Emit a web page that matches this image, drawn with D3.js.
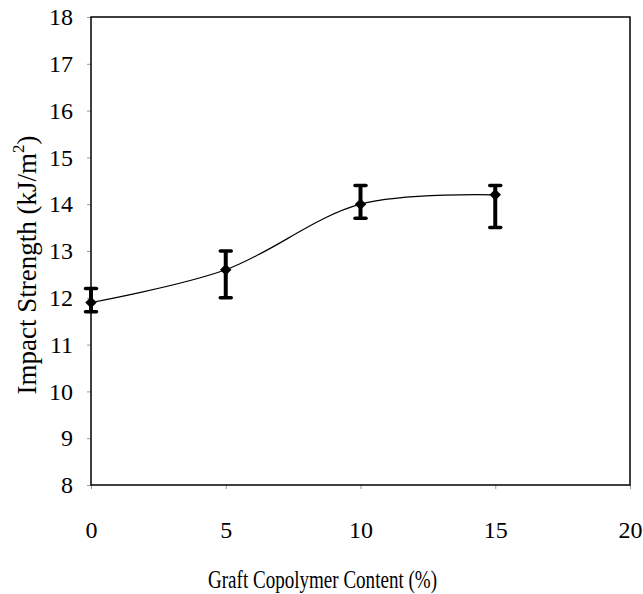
<!DOCTYPE html>
<html>
<head>
<meta charset="utf-8">
<script src="https://cdn.jsdelivr.net/npm/d3@7"></script>
<style>
  body { margin: 0; background: #fff; }
  svg { display: block; font-family: "Liberation Serif", "Times New Roman", serif; }
</style>
</head>
<body>
<svg id="chart" width="643" height="594"></svg>
<script>
// data
const content = [0, 5, 10, 15];
const strength = [11.9, 12.6, 14.0, 14.2];
const errLow = [11.7, 12.0, 13.7, 13.5];
const errHigh = [12.2, 13.0, 14.4, 14.4];
const xTicks = [0, 5, 10, 15, 20];
const yTicks = [8, 9, 10, 11, 12, 13, 14, 15, 16, 17, 18];

const svg = d3.select('#chart');
const plotLeft = 91, plotRight = 630, plotTop = 17, plotBottom = 485;

const x = d3.scaleLinear().domain([0, 20]).range([plotLeft, plotRight]);
const y = d3.scaleLinear().domain([8, 18]).range([plotBottom, plotTop]);

const points = content.map((c, i) => ({
  x: c, y: strength[i], lo: errLow[i], hi: errHigh[i]
}));

// axes
const xAxis = svg.append('g')
  .attr('transform', `translate(0,${plotBottom})`)
  .call(d3.axisBottom(x).tickValues(xTicks).tickSize(4).tickPadding(32));
const yAxis = svg.append('g')
  .attr('transform', `translate(${plotLeft},0)`)
  .call(d3.axisLeft(y).tickValues(yTicks).tickSize(4).tickPadding(14));

[xAxis, yAxis].forEach((g) => {
  g.attr('font-family', '"Liberation Serif", serif').attr('font-size', 24);
  g.select('.domain').remove();
  g.selectAll('.tick line').attr('stroke', '#999');
  g.selectAll('.tick text').attr('fill', '#000');
});

// frame
svg.append('rect')
  .attr('x', plotLeft).attr('y', plotTop)
  .attr('width', plotRight - plotLeft).attr('height', plotBottom - plotTop)
  .attr('fill', 'none').attr('stroke', '#000').attr('stroke-width', 1.5);

// smoothed line
const line = d3.line()
  .x((d) => x(d.x))
  .y((d) => y(d.y))
  .curve(d3.curveCatmullRom.alpha(0.5));

svg.append('path')
  .datum(points)
  .attr('d', line)
  .attr('fill', 'none')
  .attr('stroke', '#000')
  .attr('stroke-width', 1.2);

// error bars
const bars = svg.append('g').selectAll('g').data(points).join('g');
bars.append('line')
  .attr('x1', (d) => x(d.x)).attr('x2', (d) => x(d.x))
  .attr('y1', (d) => y(d.lo)).attr('y2', (d) => y(d.hi))
  .attr('stroke', '#000').attr('stroke-width', 4);
bars.append('line')
  .attr('x1', (d) => x(d.x) - 5.5).attr('x2', (d) => x(d.x) + 5.5)
  .attr('y1', (d) => y(d.lo)).attr('y2', (d) => y(d.lo))
  .attr('stroke', '#000').attr('stroke-width', 3.5).attr('stroke-linecap', 'round');
bars.append('line')
  .attr('x1', (d) => x(d.x) - 5.5).attr('x2', (d) => x(d.x) + 5.5)
  .attr('y1', (d) => y(d.hi)).attr('y2', (d) => y(d.hi))
  .attr('stroke', '#000').attr('stroke-width', 3.5).attr('stroke-linecap', 'round');

// diamond markers
svg.append('g').selectAll('path').data(points).join('path')
  .attr('transform', (d) => `translate(${x(d.x)},${y(d.y)})`)
  .attr('d', d3.symbol(d3.symbolDiamond2, 85))
  .attr('fill', '#000');

// axis titles
svg.append('text')
  .attr('x', 208).attr('y', 588)
  .attr('textLength', 229)
  .attr('lengthAdjust', 'spacingAndGlyphs')
  .style('font-size', '25px')
  .attr('fill', '#000')
  .text('Graft Copolymer Content (%)');

const yTitle = svg.append('text')
  .attr('transform', 'translate(36,265) rotate(-90)')
  .attr('text-anchor', 'middle')
  .style('font-size', '27px')
  .attr('fill', '#000');
yTitle.append('tspan').text('Impact Strength (kJ/m');
yTitle.append('tspan').attr('dy', -12).style('font-size', '17px').text('2');
yTitle.append('tspan').attr('dy', 12).text(')');
</script>
</body>
</html>
